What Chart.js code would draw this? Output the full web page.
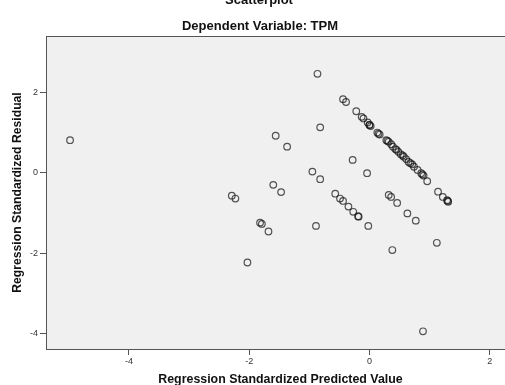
<!DOCTYPE html>
<html>
<head>
<meta charset="utf-8">
<script src="https://cdn.jsdelivr.net/npm/chart.js@4.4.0/dist/chart.umd.min.js"></script>
<style>
  html, body { margin: 0; padding: 0; background: #fff; overflow: hidden; }
</style>
</head>
<body>
<canvas id="myChart" width="520" height="385"></canvas>
<script>
// Predicted values (x) and residuals (y)
const predicted = [
    -4.98, -0.865, -0.82, -1.56, -1.37, -0.95, -0.82, -1.60, -1.47, -2.29, -2.23,
    -1.82, -1.79, -1.68, -2.03, -0.89, -0.28, -0.04, -0.57, -0.49, -0.44, -0.35,
    -0.27, -0.19, -0.18, -0.02, 0.32, 0.36, 0.46, 0.63, 0.77, 0.38, 1.12, 0.89,
    -0.44, -0.39, -0.22, -0.13, -0.10, -0.03, 0.00, 0.02, 0.13, 0.17, 0.28, 0.32,
    0.36, 0.39, 0.43, 0.48, 0.52, 0.57, 0.61, 0.65, 0.71, 0.74, 0.80, 0.86, 0.90,
    0.96, 1.14, 1.22, 1.29, 1.31, 0.00, 0.15, 0.30, 0.45, 0.55, 0.68, 0.88, 1.30
];
const residuals = [
    0.81, 2.46, 1.13, 0.92, 0.65, 0.03, -0.16, -0.30, -0.48, -0.57, -0.64,
    -1.24, -1.27, -1.46, -2.23, -1.32, 0.32, -0.01, -0.52, -0.64, -0.70, -0.84,
    -0.97, -1.08, -1.09, -1.32, -0.55, -0.60, -0.75, -1.01, -1.19, -1.92, -1.74, -3.94,
    1.83, 1.76, 1.53, 1.39, 1.35, 1.25, 1.19, 1.16, 1.00, 0.95, 0.81, 0.77,
    0.71, 0.65, 0.59, 0.52, 0.46, 0.40, 0.34, 0.27, 0.21, 0.15, 0.07, -0.01, -0.07,
    -0.21, -0.47, -0.60, -0.68, -0.72, 1.19, 0.97, 0.79, 0.57, 0.43, 0.24, -0.04, -0.70
];
const xTicks = [-4, -2, 0, 2];
const yTicks = [-4, -2, 0, 2];

const points = predicted.map((x, i) => ({ x: x, y: residuals[i] }));

// Grey plot background, top border and the titles above the plot
const frame = {
    id: 'frame',
    beforeDraw(chart) {
        const { ctx, chartArea: a } = chart;
        ctx.save();
        ctx.fillStyle = '#f0f0f0';
        ctx.fillRect(a.left, a.top, a.right - a.left, a.bottom - a.top);
        ctx.restore();
    },
    afterDraw(chart) {
        const { ctx, chartArea: a } = chart;
        ctx.save();
        ctx.strokeStyle = '#555';
        ctx.lineWidth = 1;
        ctx.beginPath();
        ctx.moveTo(a.left, a.top + 0.5);
        ctx.lineTo(a.right, a.top + 0.5);
        ctx.stroke();
        ctx.fillStyle = '#111';
        ctx.textAlign = 'center';
        ctx.textBaseline = 'alphabetic';
        ctx.font = 'bold 13px "Liberation Sans", Arial, sans-serif';
        ctx.fillText('Scatterplot', 259, 4);
        ctx.font = 'bold 13px "Liberation Sans", Arial, sans-serif';
        ctx.fillText('Dependent Variable: TPM', 260, 30);
        ctx.restore();
    }
};

const config = {
    type: 'scatter',
    data: {
        datasets: [{
            data: points,
            pointStyle: 'circle',
            pointRadius: 3.3,
            pointHoverRadius: 3.3,
            backgroundColor: 'rgba(0,0,0,0)',
            borderColor: 'rgba(20,20,20,0.72)',
            borderWidth: 1.2
        }]
    },
    options: {
        responsive: false,
        animation: false,
        devicePixelRatio: 1,
        layout: { padding: { top: 36, left: 0, right: 5, bottom: 0 } },
        plugins: {
            legend: { display: false },
            tooltip: { enabled: false }
        },
        scales: {
            x: {
                type: 'linear',
                min: -5.38,
                max: 2.42,
                afterBuildTicks: s => { s.ticks = xTicks.map(v => ({ value: v })); },
                afterFit: s => { s.height = 36; },
                grid: { drawOnChartArea: false, drawTicks: true, tickLength: 6, color: '#555' },
                border: { display: true, color: '#555', width: 1 },
                ticks: {
                    padding: 1,
                    color: '#333',
                    font: { family: '"Liberation Sans", Arial, sans-serif', size: 9 }
                },
                title: {
                    display: true,
                    text: 'Regression Standardized Predicted Value',
                    color: '#111',
                    padding: { top: 0, bottom: -2 },
                    font: { family: '"Liberation Sans", Arial, sans-serif', size: 12.4, weight: 'bold' }
                }
            },
            y: {
                type: 'linear',
                min: -4.38,
                max: 3.40,
                afterBuildTicks: s => { s.ticks = yTicks.map(v => ({ value: v })); },
                afterFit: s => { s.width = 46; },
                grid: { drawOnChartArea: false, drawTicks: true, tickLength: 6, color: '#555' },
                border: { display: true, color: '#555', width: 1 },
                ticks: {
                    padding: 2,
                    color: '#333',
                    font: { family: '"Liberation Sans", Arial, sans-serif', size: 9 }
                },
                title: {
                    display: true,
                    text: 'Regression Standardized Residual',
                    color: '#111',
                    padding: { top: 10, bottom: 0 },
                    font: { family: '"Liberation Sans", Arial, sans-serif', size: 12.2, weight: 'bold' }
                }
            }
        }
    },
    plugins: [frame]
};

var myChart = new Chart(document.getElementById('myChart'), config);
</script>
</body>
</html>
